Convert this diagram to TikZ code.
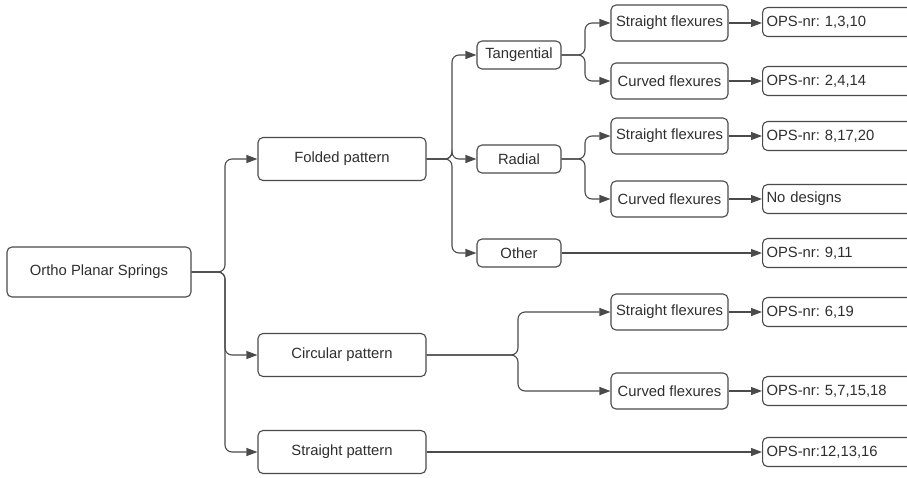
\documentclass[tikz,border=0pt]{standalone}
\usepackage{fontspec}
\setmainfont{Liberation Sans}
\usetikzlibrary{arrows.meta}
\definecolor{linec}{HTML}{4A4A4A}
\definecolor{textc}{HTML}{2E2E2E}
\frenchspacing
\begin{document}
\begin{tikzpicture}[x=1pt,y=-1pt,
  box/.style={draw=linec, line width=1.1pt, rounded corners=5pt, inner sep=0pt, text=textc,
              font=\fontsize{14.8}{17}\selectfont, align=center},
  lvl1/.style={box, minimum width=168pt, minimum height=43pt},
  lvl2/.style={box, minimum width=84pt, minimum height=28pt},
  flex/.style={box, minimum width=117pt, minimum height=36pt},
  ops/.style={box, anchor=west, inner xsep=4pt, text width=145pt, align=left, minimum height=29pt},
  conn/.style={draw=linec, line width=1.1pt, rounded corners=7pt, -{Triangle[length=11pt,width=8pt]}}]
\useasboundingbox (0,0) rectangle (907,477);

% nodes
\node[box, minimum width=184pt, minimum height=50pt] (root) at (99,272) {Ortho Planar Springs};
\node[lvl1] (fold) at (342,159) {Folded pattern};
\node[lvl1] (circ) at (342,355) {Circular pattern};
\node[lvl1] (strp) at (342,452) {Straight pattern};

\node[lvl2] (tang) at (519,55) {Tangential};
\node[lvl2] (rad) at (519,159) {Radial};
\node[lvl2] (oth) at (519,253) {Other};

\node[flex] (tsf) at (669.5,23) {Straight flexures};
\node[flex] (tcf) at (669.5,81) {Curved flexures};
\node[flex] (rsf) at (669.5,136) {Straight flexures};
\node[flex] (rcf) at (669.5,199) {Curved flexures};
\node[flex] (csf) at (669.5,312) {Straight flexures};
\node[flex] (ccf) at (669.5,391) {Curved flexures};

\node[ops] (o1) at (762,22) {OPS-nr: 1,3,10};
\node[ops] (o2) at (762,81) {OPS-nr: 2,4,14};
\node[ops] (o3) at (762,136) {OPS-nr: 8,17,20};
\node[ops] (o4) at (762,199) {No designs};
\node[ops] (o5) at (762,253) {OPS-nr: 9,11};
\node[ops] (o6) at (762,312) {OPS-nr: 6,19};
\node[ops] (o7) at (762,391) {OPS-nr: 5,7,15,18};
\node[ops] (o8) at (762,452) {OPS-nr:12,13,16};

% trunk positions
\coordinate (t0) at (225,0);
\coordinate (t1) at (452,0);
\coordinate (t2) at (585,0);
\coordinate (t3) at (518,0);

% connectors
\foreach \c in {fold,circ,strp}
  \draw[conn] (root.east) -- (root.east -| t0) |- (\c.west);
\foreach \c in {tang,rad,oth}
  \draw[conn] (fold.east) -- (fold.east -| t1) |- (\c.west);
\foreach \c in {tsf,tcf}
  \draw[conn] (tang.east) -- (tang.east -| t2) |- (\c.west);
\foreach \c in {rsf,rcf}
  \draw[conn] (rad.east) -- (rad.east -| t2) |- (\c.west);
\foreach \c in {csf,ccf}
  \draw[conn] (circ.east) -- (circ.east -| t3) |- (\c.west);

\draw[conn] (tsf.east) -- (o1.west |- tsf.east);
\draw[conn] (tcf) -- (o2);
\draw[conn] (rsf) -- (o3);
\draw[conn] (rcf) -- (o4);
\draw[conn] (oth) -- (o5);
\draw[conn] (csf) -- (o6);
\draw[conn] (ccf) -- (o7);
\draw[conn] (strp) -- (o8);
\end{tikzpicture}
\end{document}
